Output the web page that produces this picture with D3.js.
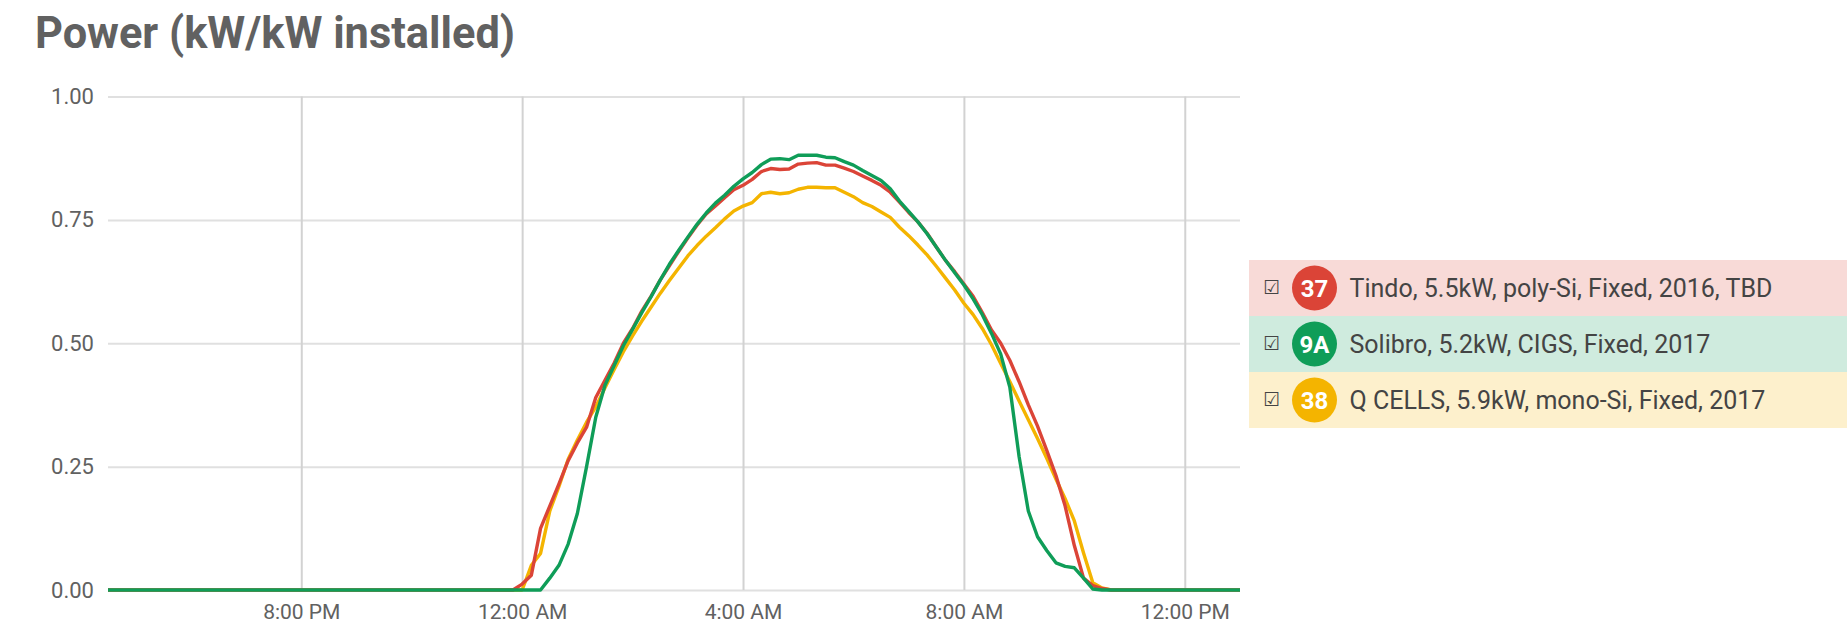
<!DOCTYPE html>
<html>
<head>
<meta charset="utf-8">
<script src="https://cdn.jsdelivr.net/npm/d3@7"></script>
<style>
  body { margin: 0; background: #fff; }
  svg { display: block; font-family: Roboto, "Noto Sans", sans-serif; }
  .tick text { fill: #616161; }
</style>
</head>
<body>
<svg id="chart" width="1847" height="629"></svg>
<script>
// series, in legend order
const seriesIds = ["37", "9A", "38"];
const seriesNames = [
  "Tindo, 5.5kW, poly-Si, Fixed, 2016, TBD",
  "Solibro, 5.2kW, CIGS, Fixed, 2017",
  "Q CELLS, 5.9kW, mono-Si, Fixed, 2017"
];
const seriesColors = ["#db4437", "#0f9d58", "#f4b400"];

// chart window and the 10 minute readings (first reading 23:50, last 10:40)
const windowStart = "2017-06-01T16:30";
const windowEnd = "2017-06-02T13:00";
const firstReading = "2017-06-01T23:50";
const lastReading = "2017-06-02T10:40";

// kW/kW installed, one row per hour of readings
const tindo = [
  0, 0.012, 0.03, 0.125, 0.17, 0.215,
  0.262, 0.298, 0.33, 0.39, 0.425, 0.46,
  0.50, 0.53, 0.565, 0.595, 0.628, 0.657,
  0.686, 0.713, 0.739, 0.762, 0.778, 0.795,
  0.811, 0.82, 0.832, 0.848, 0.854, 0.852,
  0.853, 0.863, 0.865, 0.866, 0.861, 0.861,
  0.855, 0.848, 0.839, 0.83, 0.82, 0.806,
  0.786, 0.765, 0.746, 0.723, 0.695, 0.668,
  0.645, 0.62, 0.595, 0.562, 0.527, 0.50,
  0.465, 0.422, 0.375, 0.332, 0.283, 0.232,
  0.17, 0.09, 0.024, 0.009, 0.003, 0
];
const solibro = [
  0, 0, 0, 0, 0.024, 0.05,
  0.093, 0.155, 0.25, 0.35, 0.415, 0.455,
  0.495, 0.528, 0.562, 0.594, 0.628, 0.66,
  0.688, 0.715, 0.741, 0.764, 0.784, 0.80,
  0.818, 0.833, 0.846, 0.862, 0.873, 0.874,
  0.872, 0.881, 0.881, 0.881, 0.877, 0.876,
  0.868, 0.861, 0.85, 0.84, 0.83, 0.813,
  0.788, 0.767, 0.746, 0.722, 0.695, 0.668,
  0.643, 0.618, 0.59, 0.558, 0.52, 0.478,
  0.41, 0.27, 0.16, 0.108, 0.08, 0.055,
  0.048, 0.045, 0.024, 0.002, 0, 0
];
const qcells = [
  0, 0, 0.05, 0.074, 0.16, 0.21,
  0.265, 0.304, 0.34, 0.371, 0.41, 0.447,
  0.483, 0.515, 0.545, 0.573, 0.601, 0.627,
  0.652, 0.677, 0.698, 0.717, 0.734, 0.752,
  0.768, 0.778, 0.785, 0.803, 0.806, 0.803,
  0.805, 0.812, 0.816, 0.816, 0.815, 0.815,
  0.806, 0.797, 0.785, 0.777, 0.766, 0.755,
  0.735, 0.718, 0.699, 0.679, 0.656, 0.632,
  0.608, 0.581, 0.558, 0.53, 0.497, 0.459,
  0.422, 0.383, 0.345, 0.307, 0.267, 0.225,
  0.185, 0.14, 0.075, 0.015, 0.004, 0
];
const seriesValues = [tindo, solibro, qcells];

const yTicks = [0, 0.25, 0.5, 0.75, 1];
const xTicks = ["2017-06-01T20:00", "2017-06-02T00:00", "2017-06-02T04:00",
  "2017-06-02T08:00", "2017-06-02T12:00"];

const parse = d3.timeParse("%Y-%m-%dT%H:%M");
const readingTimes = d3.timeMinute.every(10)
  .range(parse(firstReading), d3.timeMinute.offset(parse(lastReading), 1));

const svg = d3.select("#chart");
const plot = { left: 108, right: 1240, top: 96.5, bottom: 590 };

const x = d3.scaleTime()
  .domain([parse(windowStart), parse(windowEnd)])
  .range([plot.left, plot.right]);
const y = d3.scaleLinear().domain([0, 1]).range([plot.bottom, plot.top]);

// title
svg.append("text")
  .attr("x", 35)
  .attr("y", 48)
  .attr("font-size", 44)
  .attr("font-weight", "bold")
  .attr("fill", "#616161")
  .attr("textLength", 480)
  .attr("lengthAdjust", "spacingAndGlyphs")
  .text("Power (kW/kW installed)");

// y axis + horizontal grid
const yAxis = svg.append("g")
  .attr("transform", "translate(" + plot.left + ",0)")
  .call(d3.axisLeft(y).tickValues(yTicks).tickFormat(d3.format(".2f"))
    .tickSize(-(plot.right - plot.left)).tickPadding(14));
yAxis.select(".domain").remove();
yAxis.selectAll("line").attr("stroke", "#e0e0e0").attr("stroke-width", 2);
yAxis.selectAll("text").attr("font-size", 22).attr("font-family", "Roboto");

// x axis + vertical grid
const xAxis = svg.append("g")
  .attr("transform", "translate(0," + plot.bottom + ")")
  .call(d3.axisBottom(x).tickValues(xTicks.map(parse))
    .tickFormat(d3.timeFormat("%-I:%M %p"))
    .tickSize(-(plot.bottom - plot.top)).tickPadding(14));
xAxis.select(".domain").remove();
xAxis.selectAll("line").attr("stroke", "#d2d2d2").attr("stroke-width", 2);
xAxis.selectAll("text").attr("font-size", 21).attr("font-family", "Roboto");

// lines: flat zero at night, readings in between
const line = d3.line()
  .x(function (d) { return x(d[0]); })
  .y(function (d) { return y(d[1]); });

const drawOrder = [2, 0, 1];
drawOrder.forEach(function (i) {
  const pts = [[parse(windowStart), 0]]
    .concat(readingTimes.map(function (t, j) { return [t, seriesValues[i][j]]; }))
    .concat([[parse(windowEnd), 0]]);
  svg.append("path")
    .datum(pts)
    .attr("fill", "none")
    .attr("stroke", seriesColors[i])
    .attr("stroke-width", 3.4)
    .attr("stroke-linejoin", "round")
    .attr("d", line);
});

// legend
const rowH = 56;
const legend = svg.append("g").attr("transform", "translate(1249,260)");
const rows = legend.selectAll("g.row")
  .data(seriesIds)
  .enter()
  .append("g")
  .classed("row", true)
  .attr("transform", function (d, i) { return "translate(0," + i * rowH + ")"; });

rows.append("rect")
  .attr("width", 1847 - 1249)
  .attr("height", rowH)
  .attr("fill", function (d, i) { return seriesColors[i]; })
  .attr("fill-opacity", 0.2);

rows.append("text")
  .attr("x", 14)
  .attr("y", rowH / 2 + 6)
  .attr("font-size", 19)
  .attr("font-family", "DejaVu Sans")
  .attr("fill", "#444")
  .text("\u2611");

rows.append("circle")
  .attr("cx", 65.5)
  .attr("cy", rowH / 2)
  .attr("r", 22.5)
  .attr("fill", function (d, i) { return seriesColors[i]; });

rows.append("text")
  .attr("x", 65.5)
  .attr("y", rowH / 2 + 8.5)
  .attr("text-anchor", "middle")
  .attr("font-size", 24)
  .attr("font-weight", "bold")
  .attr("fill", "#fff")
  .text(function (d) { return d; });

rows.append("text")
  .attr("x", 100.5)
  .attr("y", rowH / 2 + 9)
  .attr("font-size", 25)
  .attr("fill", "#444")
  .text(function (d, i) { return seriesNames[i]; });
</script>
</body>
</html>
